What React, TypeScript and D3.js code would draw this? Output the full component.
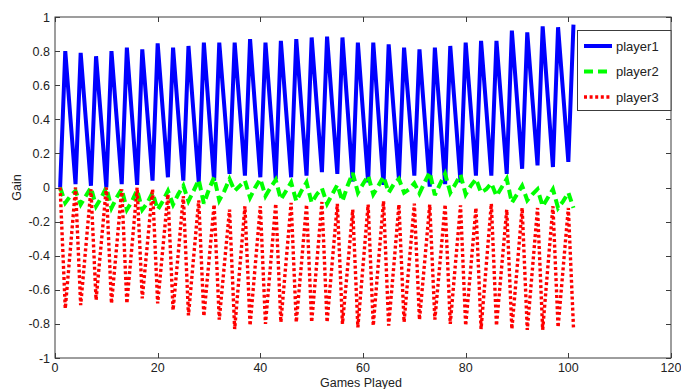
import { useEffect, useRef } from 'react';
import * as d3 from 'd3';

// games 1..101
const games = d3.range(1, 102);

const player1 = [
  0.00,
  0.80, 0.41, 0.02, 0.79, 0.40, 0.01, 0.77, 0.39, 0.00, 0.80, 0.41, 0.02,
  0.82, 0.42, 0.015, 0.81, 0.43, 0.04, 0.845, 0.45, 0.06, 0.82, 0.43, 0.04,
  0.83, 0.43, 0.03, 0.85, 0.44, 0.04, 0.85, 0.47, 0.08, 0.85, 0.46, 0.07,
  0.87, 0.46, 0.06, 0.85, 0.45, 0.05, 0.86, 0.46, 0.06, 0.87, 0.47, 0.07,
  0.88, 0.48, 0.09, 0.885, 0.48, 0.08, 0.88, 0.46, 0.035, 0.85, 0.44, 0.03,
  0.85, 0.43, 0.015, 0.84, 0.44, 0.05, 0.82, 0.45, 0.07, 0.81, 0.41, 0.005,
  0.82, 0.42, 0.02, 0.83, 0.43, 0.03, 0.85, 0.46, 0.07, 0.86, 0.47, 0.07,
  0.86, 0.47, 0.08, 0.92, 0.52, 0.11, 0.91, 0.52, 0.13, 0.945, 0.53, 0.12,
  0.94, 0.55, 0.15,
  0.955,
];

const player2 = [
  0.00,
  -0.09, -0.05, -0.02, -0.10, -0.05, 0.00, -0.11, -0.06, 0.00, -0.12, -0.06, -0.01,
  -0.13, -0.08, -0.015, -0.13, -0.09, -0.03, -0.13, -0.08, -0.02, -0.10, -0.04, 0.01,
  -0.08, -0.02, 0.045, -0.095, -0.01, 0.06, -0.075, -0.02, 0.05, -0.02, 0.01, 0.04,
  -0.06, 0.00, 0.05, -0.05, 0.00, 0.045, -0.07, -0.02, 0.03, -0.08, -0.02, 0.03,
  -0.09, -0.04, -0.005, -0.095, -0.04, 0.015, -0.08, 0.01, 0.085, -0.03, 0.02, 0.07,
  -0.04, 0.01, 0.065, -0.03, 0.02, 0.05, -0.03, -0.01, 0.025, -0.035, 0.03, 0.09,
  -0.045, 0.02, 0.08, -0.03, 0.02, 0.075, -0.04, 0.01, 0.05, -0.03, -0.01, 0.025,
  -0.05, 0.00, 0.05, -0.09, -0.04, 0.01, -0.075, -0.04, -0.01, -0.11, -0.06, -0.01,
  -0.12, -0.08, -0.03,
  -0.12,
];

const player3 = [
  0.00,
  -0.71, -0.36, 0.00, -0.69, -0.35, -0.01, -0.66, -0.33, 0.00, -0.68, -0.35, -0.01,
  -0.68, -0.34, 0.00, -0.65, -0.33, -0.01, -0.68, -0.36, -0.04, -0.72, -0.39, -0.05,
  -0.75, -0.41, -0.075, -0.755, -0.43, -0.10, -0.775, -0.45, -0.13, -0.83, -0.47, -0.11,
  -0.81, -0.46, -0.11, -0.80, -0.45, -0.095, -0.79, -0.44, -0.09, -0.79, -0.45, -0.10,
  -0.79, -0.44, -0.085, -0.79, -0.44, -0.095, -0.80, -0.47, -0.13, -0.82, -0.46, -0.10,
  -0.81, -0.44, -0.08, -0.81, -0.46, -0.10, -0.79, -0.44, -0.095, -0.775, -0.44, -0.10,
  -0.775, -0.44, -0.10, -0.80, -0.45, -0.105, -0.81, -0.47, -0.12, -0.83, -0.46, -0.095,
  -0.81, -0.47, -0.13, -0.83, -0.48, -0.12, -0.835, -0.48, -0.12, -0.835, -0.47, -0.11,
  -0.82, -0.47, -0.12,
  -0.82,
];

const xTicks = [0, 20, 40, 60, 80, 100, 120];
const yTicks = [-1, -0.8, -0.6, -0.4, -0.2, 0, 0.2, 0.4, 0.6, 0.8, 1];

const seriesNames = ['player1', 'player2', 'player3'];
const seriesColors = ['#0000ff', '#00ff00', '#ff0000'];
const seriesDash = [null, '9 5', '3 2.6'];
const seriesWidth = [4, 4, 3.4];

export default function App() {
  const ref = useRef<SVGSVGElement>(null);

  useEffect(() => {
    if (!ref.current) return;
    document.body.style.margin = '0';

    const W = 681;
    const H = 389;
    const L = 55, R = 671, T = 17, B = 358;
    const FONT = '"Liberation Sans", Arial, sans-serif';
    const AX = '#3c3c3c';

    const x = d3.scaleLinear().domain([0, 120]).range([L, R]);
    const y = d3.scaleLinear().domain([-1, 1]).range([B, T]);

    const svg = d3.select(ref.current);
    svg.selectAll('*').remove();
    svg.attr('width', W).attr('height', H).attr('viewBox', `0 0 ${W} ${H}`);

    svg.append('rect').attr('width', W).attr('height', H).attr('fill', '#ffffff');

    // Lines
    const line = d3.line<number>()
      .x((_, i) => x(games[i]))
      .y(d => y(d));

    [player1, player2, player3].forEach((vals, i) => {
      svg.append('path')
        .datum(vals)
        .attr('d', line)
        .attr('fill', 'none')
        .attr('stroke', seriesColors[i])
        .attr('stroke-width', seriesWidth[i])
        .attr('stroke-linejoin', 'miter')
        .attr('stroke-miterlimit', 3)
        .attr('stroke-dasharray', seriesDash[i] as any);
    });

    // Axes box + inward ticks
    const g = svg.append('g').attr('stroke', AX).attr('stroke-width', 1).attr('fill', 'none');
    g.append('rect').attr('x', L).attr('y', T).attr('width', R - L).attr('height', B - T);
    const TK = 5;
    xTicks.forEach(t => {
      const px = Math.round(x(t)) + 0.5;
      g.append('line').attr('x1', px).attr('x2', px).attr('y1', B).attr('y2', B - TK);
      g.append('line').attr('x1', px).attr('x2', px).attr('y1', T).attr('y2', T + TK);
    });
    yTicks.forEach(t => {
      const py = Math.round(y(t)) + 0.5;
      g.append('line').attr('x1', L).attr('x2', L + TK).attr('y1', py).attr('y2', py);
      g.append('line').attr('x1', R).attr('x2', R - TK).attr('y1', py).attr('y2', py);
    });

    // Tick labels
    svg.append('g').selectAll('text')
      .data(xTicks).enter().append('text')
      .attr('x', d => x(d))
      .attr('y', B + 14)
      .attr('text-anchor', 'middle')
      .style('font-family', FONT).style('font-size', '12.5px').style('fill', '#222')
      .text(d => String(d));

    svg.append('g').selectAll('text')
      .data(yTicks).enter().append('text')
      .attr('x', L - 5)
      .attr('y', d => y(d) + 4.5)
      .attr('text-anchor', 'end')
      .style('font-family', FONT).style('font-size', '12.5px').style('fill', '#222')
      .text(d => String(d));

    // Axis titles
    svg.append('text')
      .attr('x', (L + R) / 2 - 2)
      .attr('y', 387)
      .attr('text-anchor', 'middle')
      .style('font-family', FONT).style('font-size', '12.5px').style('fill', '#222')
      .text('Games Played');

    svg.append('text')
      .attr('transform', `translate(21, ${y(0)}) rotate(-90)`)
      .attr('text-anchor', 'middle')
      .style('font-family', FONT).style('font-size', '12.5px').style('fill', '#222')
      .text('Gain');

    // Legend
    const lg = svg.append('g');
    lg.append('rect')
      .attr('x', 577.5).attr('y', 30.5).attr('width', R - 577.5).attr('height', 80)
      .attr('fill', '#ffffff').attr('stroke', AX).attr('stroke-width', 1);
    seriesNames.forEach((name, i) => {
      const ly = 46 + i * 25.5;
      lg.append('line')
        .attr('x1', 584).attr('x2', 612).attr('y1', ly).attr('y2', ly)
        .attr('stroke', seriesColors[i])
        .attr('stroke-width', seriesWidth[i])
        .attr('stroke-dasharray', seriesDash[i] as any);
      lg.append('text')
        .attr('x', 616).attr('y', ly + 4.5)
        .style('font-family', FONT).style('font-size', '13px').style('fill', '#222')
        .text(name);
    });
  }, []);

  return <svg ref={ref} style={{ display: 'block' }} />;
}
